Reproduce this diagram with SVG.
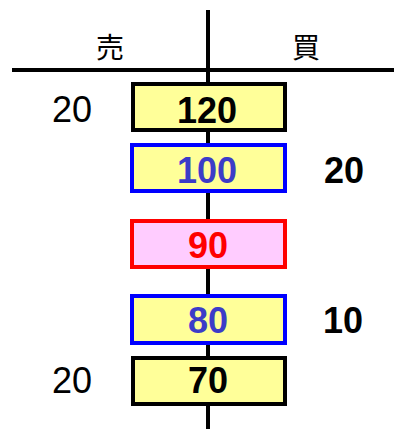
<svg xmlns="http://www.w3.org/2000/svg" width="394" height="429" viewBox="0 0 394 429">
<style>
.box{stroke-width:4}
.y{fill:#FFFF99}
.num{font-family:"Liberation Sans",Arial,sans-serif;font-size:36px;font-weight:bold;text-anchor:middle}
.side{font-family:"Liberation Sans",Arial,sans-serif;font-size:36px;text-anchor:middle}
.hd{font-family:"Noto Sans CJK JP","Liberation Sans",sans-serif;font-size:28px;text-anchor:middle}
</style>
<g id="axes" stroke="#000" stroke-width="4">
<line x1="208" y1="10" x2="208" y2="429"/>
<line x1="12" y1="70" x2="394" y2="70"/>
</g>
<g id="headers">
<text class="hd" x="110" y="58">売</text>
<text class="hd" x="306" y="58">買</text>
</g>
<g id="n120"><rect class="box y" x="133" y="84" width="152" height="46" stroke="#000"/><text class="num" x="207" y="123">120</text></g>
<g id="n100"><rect class="box y" x="132" y="145" width="153" height="46" stroke="#0000FF"/><text class="num" x="207" y="183" fill="#3C3CC8">100</text></g>
<g id="n90"><rect class="box" x="132" y="221" width="153" height="46" fill="#FFCCFF" stroke="#FF0000"/><text class="num" x="208" y="258" fill="#FF0000">90</text></g>
<g id="n80"><rect class="box y" x="132" y="296" width="153" height="47" stroke="#0000FF"/><text class="num" x="208" y="333" fill="#3C3CC8">80</text></g>
<g id="n70"><rect class="box y" x="133" y="358" width="152" height="46" stroke="#000"/><text class="num" x="208" y="393">70</text></g>
<g id="labels">
<text class="side" x="72" y="122">20</text>
<text class="num" x="344" y="183">20</text>
<text class="num" x="343" y="333">10</text>
<text class="side" x="72" y="393">20</text>
</g>
</svg>
